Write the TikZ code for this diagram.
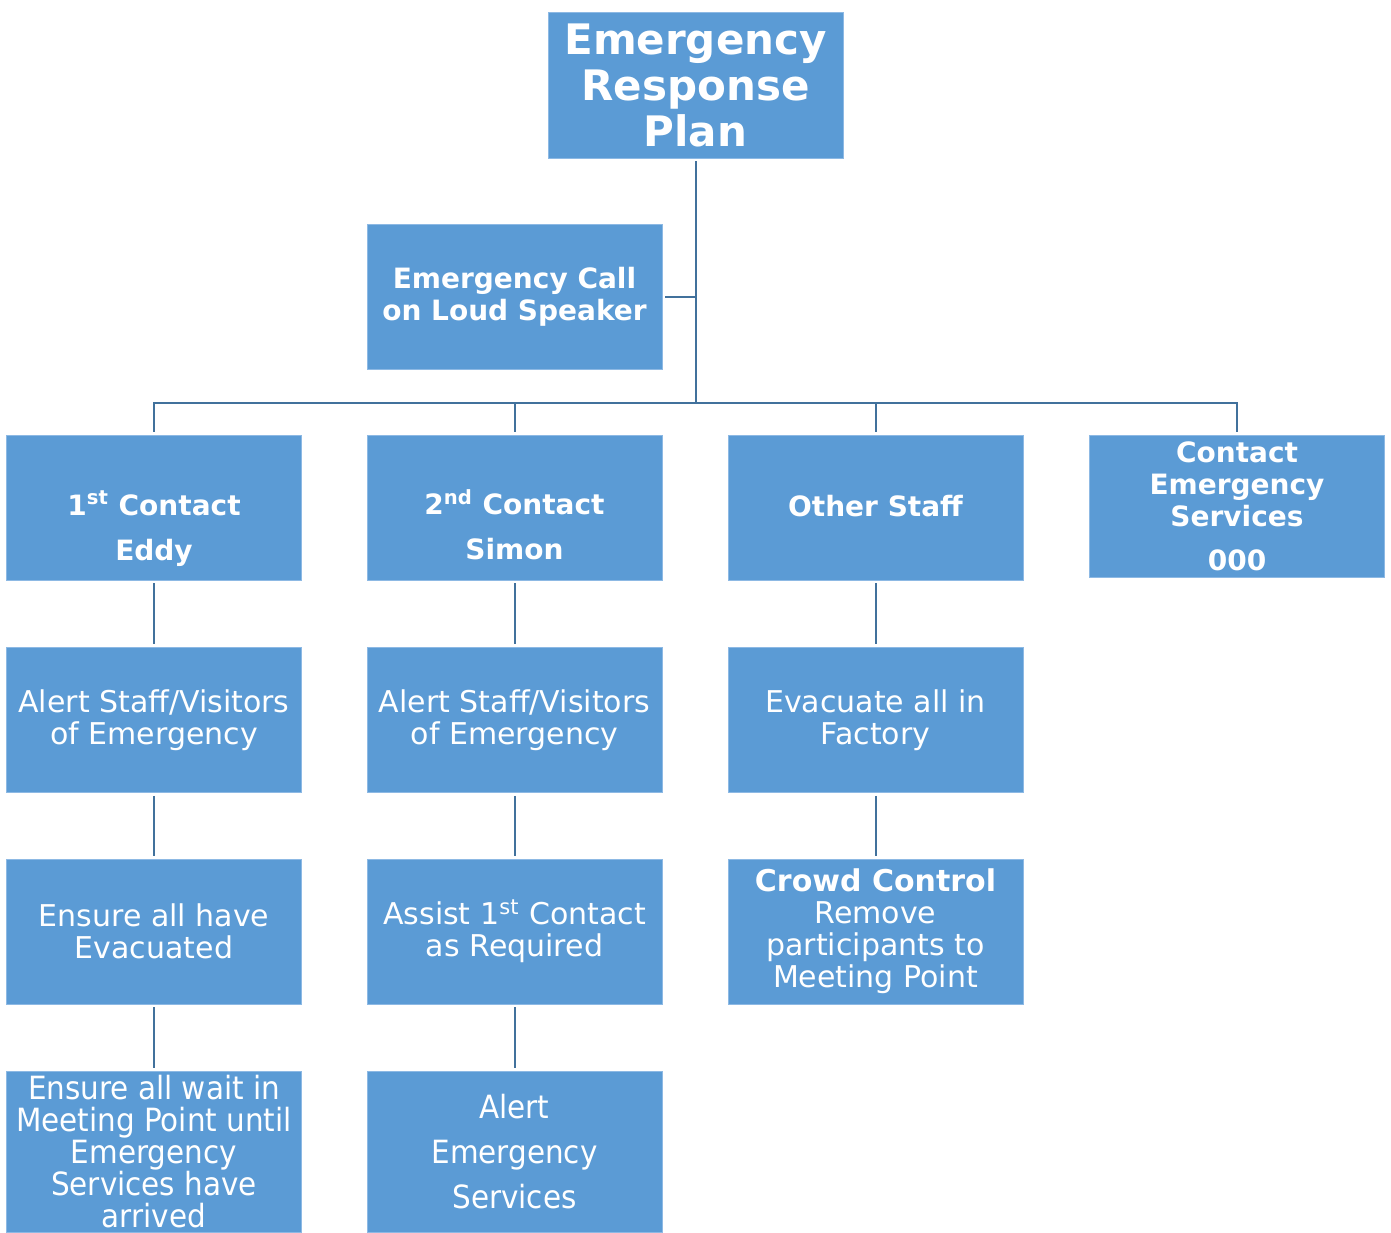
\documentclass[tikz,border=0pt]{standalone}
\usepackage{fontspec}
\setmainfont{DejaVu Sans}
\newfontfamily\narrowfont[FakeStretch=0.92]{DejaVu Sans}
\usetikzlibrary{positioning}
\definecolor{boxblue}{HTML}{5B9BD5}
\definecolor{edgeblue}{HTML}{8DB9E4}
\definecolor{lineblue}{HTML}{41719C}

\begin{document}
\begin{tikzpicture}[x=0.5pt, y=-0.5pt,
	box/.style={rectangle, fill=boxblue, draw=edgeblue, line width=0.4pt, inner sep=0pt,
		minimum width=147.5pt, minimum height=72.5pt, text=white, align=center,
		font=\fontsize{15}{16}\selectfont},
	headbox/.style={box, font=\fontsize{14}{16}\selectfont\bfseries},
	boxtext/.style={text=white, align=center, font=\fontsize{14}{16}\selectfont\bfseries},
	link/.style={draw=lineblue, line width=1pt, shorten >=1.5pt, shorten <=1.5pt}]

	\useasboundingbox (0,0) rectangle (1391,1232);

	% top of the plan
	\node[headbox, minimum height=73pt, font=\fontsize{21}{23}\selectfont\bfseries]
		(plan) at (695.5,85) {Emergency\\Response\\Plan};
	\node[headbox] (call) at (514.5,296.5) {Emergency Call\\on Loud Speaker};
	\coordinate (bus) at (695.5,403);

	% first row
	\node[box, label={[boxtext, yshift=-10.5pt]center:{1\textsuperscript{st} Contact\\[6.5pt]Eddy}}]
		(first) at (154,507.5) {};
	\node[box, label={[boxtext, yshift=-8.5pt]center:{2\textsuperscript{nd} Contact\\[6.5pt]Simon}}]
		(second) at (514.5,507.5) {};
	\node[headbox] (staff) at (875.5,507.5) {\raisebox{2pt}{Other Staff}};
	\node[headbox, minimum height=71pt] (call000) at (1237,506) {Contact\\Emergency\\Services\\[6pt]000};

	% second row
	\node[box] (alertA) at (154,720) {Alert Staff/Visitors\\of Emergency};
	\node[box] (alertB) at (514.5,720) {Alert Staff/Visitors\\of Emergency};
	\node[box] (evac) at (875.5,720) {Evacuate all in\\Factory};

	% third row
	\node[box] (ensure) at (154,931.5) {Ensure all have\\Evacuated};
	\node[box] (assist) at (514.5,931.5) {Assist 1\textsuperscript{st} Contact\\as Required};
	\node[box] (crowd) at (875.5,931.5) {\textbf{Crowd Control}\\Remove\\participants to\\Meeting Point};

	% fourth row
	\node[box, minimum height=80.5pt, font=\fontsize{16}{16}\narrowfont]
		(wait) at (154,1151.5) {Ensure all wait in\\Meeting Point until\\Emergency\\Services have\\arrived};
	\node[box, minimum height=80.5pt, font=\fontsize{16}{16}\narrowfont]
		(alertES) at (514.5,1151.5) {Alert\\[6.5pt]Emergency\\[6.5pt]Services};

	% connectors
	\draw[link, shorten >=0pt] (plan) -- (bus);
	\draw[link, shorten >=0pt] (call.east) -- (call.east -| bus);
	\draw[link, shorten >=0pt] (first.north) |- (bus);
	\draw[link, shorten >=0pt] (second.north) |- (bus);
	\draw[link, shorten >=0pt] (staff.north) |- (bus);
	\draw[link, shorten >=0pt] (call000.north) |- (bus);

	\draw[link] (first) -- (alertA);
	\draw[link] (alertA) -- (ensure);
	\draw[link] (ensure) -- (wait);
	\draw[link] (second) -- (alertB);
	\draw[link] (alertB) -- (assist);
	\draw[link] (assist) -- (alertES);
	\draw[link] (staff) -- (evac);
	\draw[link] (evac) -- (crowd);
\end{tikzpicture}
\end{document}
